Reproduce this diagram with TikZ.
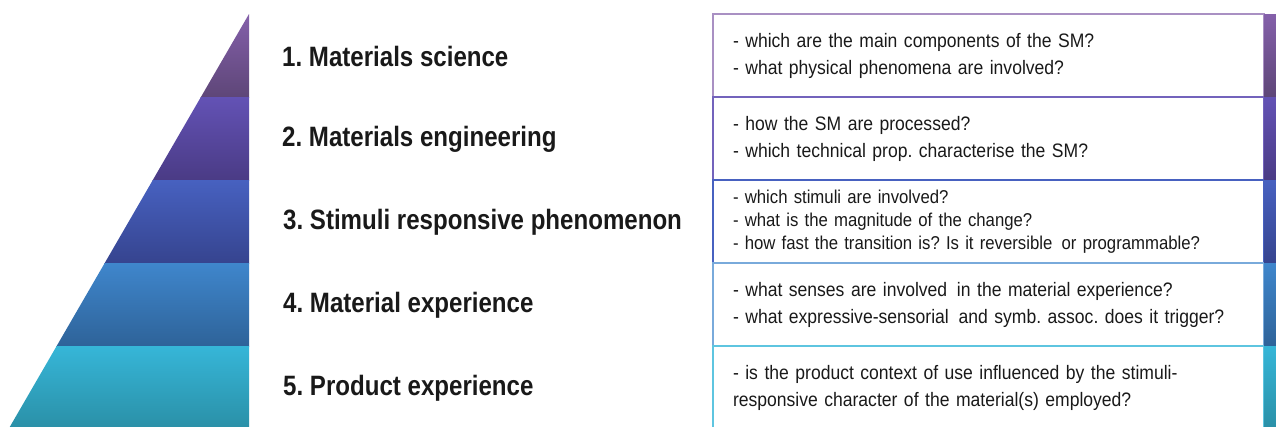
\documentclass[tikz,border=0pt]{standalone}
\usepackage{fontspec}
\setmainfont{Liberation Sans}
\newfontfamily\levelfont{Liberation Sans}[FakeStretch=0.86]
\newfontfamily\askfont{Liberation Sans}[FakeStretch=0.9]
\usetikzlibrary{positioning}
\frenchspacing

\definecolor{sciTop}{HTML}{8460AA}
\definecolor{sciBot}{HTML}{5E4678}
\definecolor{engTop}{HTML}{6352B5}
\definecolor{engBot}{HTML}{4A3B85}
\definecolor{stiTop}{HTML}{4761C0}
\definecolor{stiBot}{HTML}{36448F}
\definecolor{expTop}{HTML}{3F86CC}
\definecolor{expBot}{HTML}{2E6399}
\definecolor{proTop}{HTML}{36B6D8}
\definecolor{proBot}{HTML}{2A8FA6}

\begin{document}
\begin{tikzpicture}[x=1pt, y=-1pt,
  level/.style={anchor=west, inner sep=0pt, text=black!90,
    font=\levelfont\bfseries\fontsize{28}{30}\selectfont},
  ask/.style={draw=#1, line width=1.2pt, outer sep=0pt, minimum width=551pt,
    minimum height=83pt, text width=511pt, inner xsep=20pt,
    inner ysep=0pt, align=left, text=black!90,
    font=\askfont\fontsize{19.5}{27}\selectfont}]
\useasboundingbox (0,0) rectangle (1276,426);

% pyramid
\begin{scope}
  \clip (249,14) -- (8,430) -- (249,430) -- cycle;
  \shade[top color=sciTop, bottom color=sciBot] (0,14) rectangle (249,97);
  \shade[top color=engTop, bottom color=engBot] (0,97) rectangle (249,180);
  \shade[top color=stiTop, bottom color=stiBot] (0,180) rectangle (249,263);
  \shade[top color=expTop, bottom color=expBot] (0,263) rectangle (249,346);
  \shade[top color=proTop, bottom color=proBot] (0,346) rectangle (249,430);
\end{scope}

% levels
\node (ms) [level] at (282,56) {1. Materials science};
\node (me) [level] at (282,139) {2. Materials engineering};
\node (sr) [level] at (283,222) {3. Stimuli responsive phenomenon};
\node (mx) [level] at (283,305) {4. Material experience};
\node (px) [level] at (283,388) {5. Product experience};

% questions
\node (q1) [ask=sciTop!70, anchor=north west] at (713,14)
  {- which are the main components of the SM?\\
   - what physical phenomena are involved?};
\node (q2) [ask=engTop!90, below=0pt of q1]
  {- how the SM are processed?\\
   - which technical prop. characterise the SM?};
\node (q3) [ask=stiTop, below=0pt of q2,
  font=\askfont\fontsize{18.6}{23}\selectfont]
  {- which stimuli are involved?\\
   - what is the magnitude of the change?\\
   - how fast the transition is? Is it reversible\ \,or programmable?};
\node (q4) [ask=expTop!70, below=0pt of q3]
  {- what senses are involved\, in the material experience?\\
   - what expressive-sensorial\, and symb. assoc. does it trigger?};
\node (q5) [ask=proTop!80, below=0pt of q4]
  {- is the product context of use influenced by the stimuli-\\
   responsive character of the material(s) employed?};

% side strip
\shade[top color=sciTop, bottom color=sciBot] (1264,14) rectangle (1276,97);
\shade[top color=engTop, bottom color=engBot] (1264,97) rectangle (1276,180);
\shade[top color=stiTop, bottom color=stiBot] (1264,180) rectangle (1276,263);
\shade[top color=expTop, bottom color=expBot] (1264,263) rectangle (1276,346);
\shade[top color=proTop, bottom color=proBot] (1264,346) rectangle (1276,430);
\end{tikzpicture}
\end{document}
